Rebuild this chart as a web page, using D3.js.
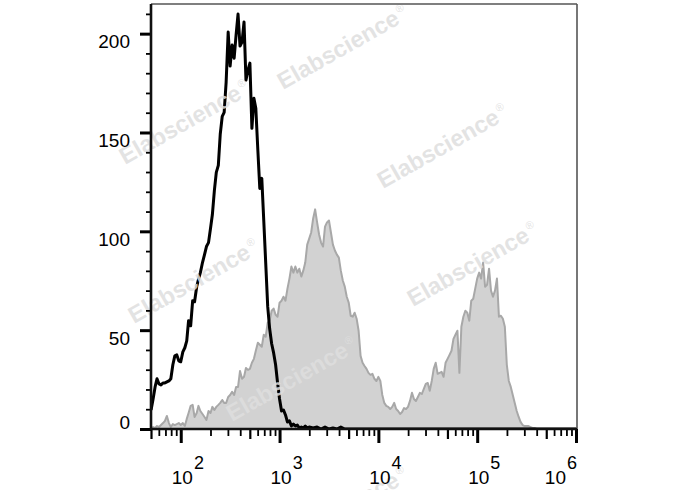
<!DOCTYPE html>
<html><head><meta charset="utf-8">
<script src="https://cdn.jsdelivr.net/npm/d3@7"></script>
<style>html,body{margin:0;padding:0;background:#fff;}svg{display:block;}</style>
</head><body><svg id="c" width="688" height="490"></svg>
<script>
// ---- data (fluorescence intensity vs. event count) ----
const blackX = [50.1,52.5,55.0,57.5,60.3,63.1,66.1,69.2,72.4,75.9,79.4,83.2,87.1,91.2,95.5,
  100,105,110,115,120,126,132,138,145,151,158,166,174,182,191,200,209,219,229,240,251,263,275,288,302,316,331,347,363,380,398,417,437,457,479,501,525,550,575,603,631,661,692,724,759,794,832,871,912,955,
  1000,1047,1096,1148,1202,1259,1318,1380,1445,1514,1585,1660,1738,1820,1905,1995,2188,2399,2630,2884,3162,3467,3802,4169,4571,5012,1000000];
const blackCount = [9.6,15.2,21.3,25.4,22.8,22.3,23.3,23.3,23.8,24.3,25.4,32.5,37.0,37.5,34.5,
  34.0,39.0,41.1,44.6,54.8,52.2,64.9,64.4,72.0,75.6,79.1,84.2,88.2,92.3,94.3,101.4,108.5,120.7,129.8,133.4,149.1,158.2,160.2,175.5,200.8,183.6,194.2,187.6,199.3,209.9,193.7,195.7,205.9,176.5,181.5,185.1,152.1,167.3,162.3,141.0,121.7,126.8,105.5,84.2,61.9,50.7,43.1,38.5,32.5,23.3,
  15.2,9.1,9.6,7.1,3.5,4.1,1.5,2.5,1.5,2.0,0.5,1.0,0.5,1.5,0.5,1.0,0.5,1,0,1,0,0.5,0,1,0,0,0];
const grayX = [50.1,52.5,55.0,57.5,60.3,63.1,66.1,69.2,72.4,75.9,79.4,83.2,87.1,91.2,95.5,
  100,105,110,115,120,126,132,138,145,151,158,166,174,182,191,200,209,219,229,240,251,263,275,288,302,316,331,347,363,380,398,417,437,457,479,501,525,550,575,603,631,661,692,724,759,794,832,871,912,955,
  1000,1047,1096,1148,1202,1259,1318,1380,1445,1514,1585,1660,1738,1820,1905,1995,2089,2188,2291,2399,2512,2630,2754,2884,3020,3162,3311,3467,3631,3802,3981,4169,4365,4571,4786,5012,5248,5495,5754,6026,6310,6607,6918,7244,7586,7943,8318,8710,9120,9550,
  10000,10470,10960,11480,12020,12590,13180,13800,14450,15140,15850,16600,17380,18200,19050,19950,20890,21880,22910,23990,25120,26300,27540,28840,30200,31620,33110,34670,36310,38020,39810,41690,43650,45710,47860,50120,52480,54950,57540,60260,63100,66070,69180,72440,75860,79430,83180,87100,91200,95500,
  100000,104700,109600,114800,120200,125900,131800,138000,144500,151400,158500,166000,173800,182000,190500,199500,208900,218800,229100,239900,251200,263000,275400,288400,302000,316200,331100,346700,363100,380200,398100,1000000];
const grayCount = [0.5,1.0,0.5,1.5,1.0,2.0,3.0,4.1,6.6,3.0,1.0,2.5,2.0,2.5,3.0,
  2.0,3.0,1.5,5.1,8.1,11.7,12.2,6.1,8.1,11.7,9.1,7.6,6.1,4.6,9.1,8.1,11.2,9.6,11.2,12.2,13.2,14.7,13.2,13.2,16.2,17.2,18.8,17.2,21.3,21.3,29.4,25.4,26.4,30.9,29.9,30.4,33.5,35.5,39.6,43.6,42.6,41.6,47.7,46.7,53.8,54.8,59.8,60.9,57.8,56.8,
  63.9,64.9,66.9,64.9,71.0,76.1,82.2,79.1,82.2,79.1,81.1,77.1,80.1,84.2,93.3,96.3,99.4,106.5,111.1,104.5,98.4,94.3,92.3,102.4,104.5,105.5,99.4,93.3,90.3,88.2,86.7,80.1,75.1,72.0,66.9,63.9,57.3,56.8,58.8,55.8,49.7,37.0,33.5,31.9,30.4,28.4,27.4,27.9,25.4,24.3,
  26.4,24.3,17.2,13.2,11.7,11.2,10.1,11.2,13.2,10.1,9.1,7.6,8.6,10.6,10.1,11.2,14.2,18.3,15.2,14.2,16.2,18.3,17.7,20.3,22.8,23.3,19.3,24.3,30.4,33.5,27.9,28.4,28.9,26.4,33.5,35.5,37.5,39.6,45.6,47.7,49.7,28.4,51.7,56.8,59.8,58.8,54.8,64.9,65.9,71.0,
  76.1,79.1,76.1,84.2,72.0,73.0,81.1,70.0,66.9,70.0,76.1,56.8,57.3,55.8,51.7,32.5,24.3,21.3,17.2,13.2,9.1,6.1,3.5,2.0,1.5,1.5,1.5,1.0,0.5,0.5,0,0];
const yTickValues = [0, 50, 100, 150, 200];
const xTickExponents = [2, 3, 4, 5, 6];
const watermarkText = "Elabscience";

// ---- layout ----
const svg = d3.select("#c");
const L = 151, R = 577, T = 4, B = 429;
const x = d3.scaleLog().domain([50, 1e6]).range([L, 576]);
const y = d3.scaleLinear().domain([0, 215]).range([B, T]);
const FONT = "'Liberation Sans', Arial, sans-serif";

svg.append("rect").attr("width",688).attr("height",490).attr("fill","#fff");

const gray = grayX.map((v,i)=>({x:v,c:grayCount[i]}));
const black = blackX.map((v,i)=>({x:v,c:blackCount[i]}));

svg.append("clipPath").attr("id","pc").append("rect")
  .attr("x",L).attr("y",T).attr("width",R-L).attr("height",B-T);
const plot = svg.append("g").attr("clip-path","url(#pc)");

plot.append("path").datum(gray)
  .attr("d", d3.area().x(d=>x(d.x)).y0(y(0)).y1(d=>y(d.c)))
  .attr("fill","#d2d2d2");
plot.append("path").datum(gray)
  .attr("d", d3.line().x(d=>x(d.x)).y(d=>y(d.c)))
  .attr("fill","none").attr("stroke","#a8a8a8").attr("stroke-width",2).attr("stroke-linejoin","round");

// watermarks
const wm = svg.append("g").attr("fill","#dedede").attr("fill-opacity",0.85)
  .attr("font-family",FONT).attr("font-weight","bold").attr("font-size",23.5);
[[283,90],[383,189],[125,165],[134,324],[413,307],[232,422],[283,552]].forEach(p=>{
  const t = wm.append("text").attr("transform",`translate(${p[0]},${p[1]}) rotate(-29.5)`);
  t.append("tspan").text(watermarkText);
  t.append("tspan").attr("font-size",11).attr("font-weight","normal").attr("dx",2).attr("dy",-10).text("®");
});

plot.append("path").datum(black)
  .attr("d", d3.line().x(d=>x(d.x)).y(d=>y(d.c)))
  .attr("fill","none").attr("stroke","#000").attr("stroke-width",3).attr("stroke-linejoin","round");

// frame
svg.append("line").attr("x1",L).attr("x2",R).attr("y1",T).attr("y2",T).attr("stroke","#555").attr("stroke-width",1.6);
svg.append("line").attr("x1",R).attr("x2",R).attr("y1",T).attr("y2",B).attr("stroke","#555").attr("stroke-width",1.6);

// y axis
function styleAxis(g, w){ g.select(".domain").remove(); g.selectAll(".tick line").attr("stroke","#000").attr("stroke-width",w); }
const yMinor = d3.range(10, 215, 10).filter(v => v % 50 !== 0);
svg.append("g").attr("transform",`translate(${L},0)`)
  .call(d3.axisLeft(y).tickValues(yMinor).tickSize(5).tickFormat(""))
  .call(g=>styleAxis(g,1.8));
const yAx = svg.append("g").attr("transform",`translate(${L},0)`)
  .call(d3.axisLeft(y).tickValues(yTickValues).tickSize(11).tickPadding(10).tickFormat(d3.format("d")))
  .call(g=>styleAxis(g,3));
yAx.selectAll(".tick text").attr("font-family",FONT).attr("font-size",19).attr("fill","#000")
  .attr("dy", d => d === 0 ? "-0.05em" : "0.74em");

// x axis
const allX = x.ticks().filter(v => v >= 50 && v <= 1e6);
const isDecade = v => Math.abs(Math.log10(v) - Math.round(Math.log10(v))) < 1e-9;
const lead = v => Math.round(v / Math.pow(10, Math.floor(Math.log10(v) + 1e-9)));
svg.append("g").attr("transform",`translate(0,${B})`)
  .call(d3.axisBottom(x).tickValues(allX.filter(v=>!isDecade(v) && lead(v)!==5)).tickSize(7).tickFormat(""))
  .call(g=>styleAxis(g,1.8));
svg.append("g").attr("transform",`translate(0,${B})`)
  .call(d3.axisBottom(x).tickValues(allX.filter(v=>lead(v)===5)).tickSize(10).tickFormat(""))
  .call(g=>styleAxis(g,2.2));
svg.append("g").attr("transform",`translate(0,${B})`)
  .call(d3.axisBottom(x).tickValues(xTickExponents.map(e=>Math.pow(10,e))).tickSize(14).tickFormat(""))
  .call(g=>styleAxis(g,3));

// axis lines
svg.append("line").attr("x1",L).attr("x2",R).attr("y1",B).attr("y2",B).attr("stroke","#111").attr("stroke-width",2.6);
svg.append("line").attr("x1",L).attr("x2",L).attr("y1",T).attr("y2",B+1).attr("stroke","#111").attr("stroke-width",2.6);

// x labels 10^n
const xl = svg.append("g").attr("font-family",FONT).attr("fill","#000");
xTickExponents.forEach((e,i)=>{
  const last = i === xTickExponents.length - 1;
  const px = x(Math.pow(10,e));
  const t = xl.append("text").attr("x", last ? px + 1 : px - 9).attr("y", 484)
    .attr("text-anchor", last ? "end" : "start");
  t.append("tspan").attr("font-size",19).text("10");
  t.append("tspan").attr("font-size",18).attr("dx",1).attr("dy",-15).text(String(e));
});
</script></body></html>
